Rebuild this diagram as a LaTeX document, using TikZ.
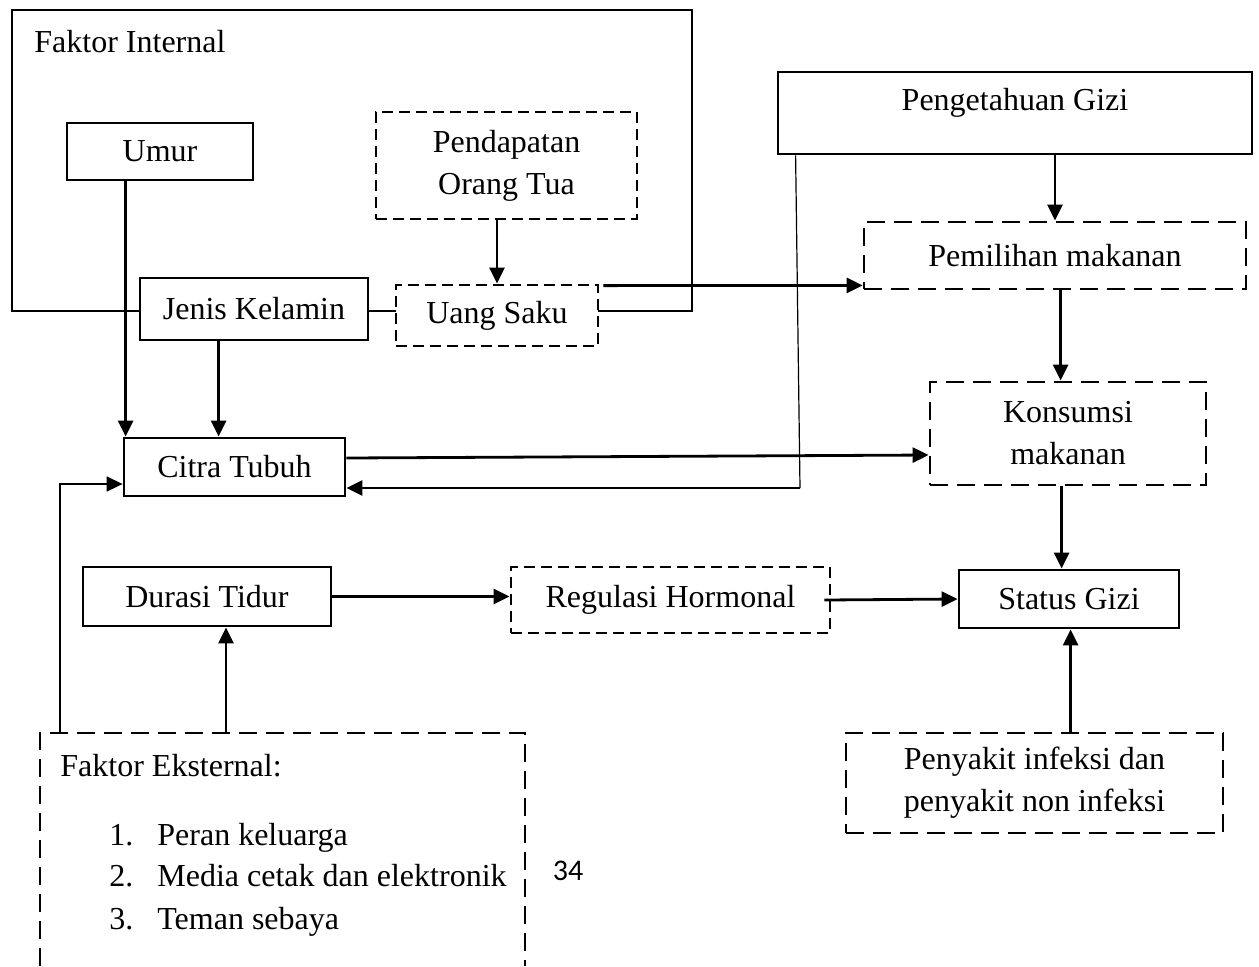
\documentclass[tikz,border=0pt]{standalone}
\usepackage{fontspec}
\setmainfont{Liberation Serif}
\newfontfamily\pagefont{Carlito}
\usetikzlibrary{arrows.meta,calc}
\begin{document}
\begin{tikzpicture}[x=0.5pt,y=-0.5pt, font=\fontsize{16pt}{21pt}\selectfont,
 box/.style={draw, line width=1.4pt, fill=white, inner sep=0pt, align=center},
 dbox/.style={box, dash pattern=on 5.5pt off 3pt},
 ldbox/.style={box, dash pattern=on 9pt off 4.5pt},
 arr/.style={line width=1.4pt, -{Triangle[length=8pt,width=7.5pt]}},
 thinarr/.style={line width=0.8pt, -{Triangle[length=8pt,width=7.5pt]}},
 thinline/.style={line width=0.6pt},
 plain/.style={anchor=base west, inner sep=0pt}]
\useasboundingbox (0,0) rectangle (1259,966);
% Faktor Internal frame
\draw[line width=1.4pt] (12,10) rectangle (692,311);
\node[plain] (fi) at (34,52) {Faktor Internal};
\node[box, minimum width=93pt, minimum height=28.5pt] (umur) at (160,151.5) {Umur};
\node[dbox, minimum width=130.5pt, minimum height=53.5pt] (pend) at (506.5,165.5) {Pendapatan\\Orang Tua};
\node[box, minimum width=114pt, minimum height=31pt] (jk) at (254,309) {Jenis Kelamin};
\node[dbox, minimum width=101pt, minimum height=30.5pt] (uang) at (497,315.5) {\raisebox{-1.2pt}{Uang Saku}};
\node[box, minimum width=237pt, minimum height=41pt] (peng) at (1015,113) {};
\node (pengt) at (1015,103) {Pengetahuan Gizi};
\node[ldbox, minimum width=191pt, minimum height=33.5pt] (pem) at (1055,255.5) {Pemilihan makanan};
\node[ldbox, minimum width=138pt, minimum height=51.5pt] (kons) at (1068,433.5) {Konsumsi\\makanan};
\node[box, minimum width=110.5pt, minimum height=29pt] (citra) at (234.5,467) {Citra Tubuh};
\node[box, minimum width=124pt, minimum height=29.5pt] (dur) at (207,596.5) {Durasi Tidur};
\node[dbox, minimum width=159.5pt, minimum height=33pt] (reg) at (670.5,600) {Regulasi Hormonal};
\node[box, minimum width=110pt, minimum height=29pt] (stat) at (1069,599) {Status Gizi};
\node[ldbox, minimum width=188.5pt, minimum height=50pt] (peny) at (1034.5,783) {Penyakit infeksi dan\\penyakit non infeksi};
% Faktor Eksternal (open at the bottom of the page)
\draw[line width=1.4pt, dash pattern=on 9pt off 4.5pt] (40,966) -- (40,733) -- (525,733) -- (525,966);
\node[plain] (fe) at (60,776) {Faktor Eksternal:};
\node[plain] (n1) at (109,845) {1.};
\node[plain] (t1) at (157,845) {Peran keluarga};
\node[plain] (n2) at (109,886) {2.};
\node[plain] (t2) at (157,886) {Media cetak dan elektronik};
\node[plain] (n3) at (109,929) {3.};
\node[plain] (t3) at (157,929) {Teman sebaya};
\node[font=\pagefont\fontsize{15pt}{17pt}\selectfont] (pg) at (568,871) {34};
\coordinate (ekL) at (60,733);
\coordinate (ekD) at (226,733);
\coordinate (kn) at (800,488);
% connectors
\draw[arr] (pend.south -| uang.north) -- (uang.north);
\draw[arr] ($(uang.north east)+(4,2)$) -- ($(pem.south west)+(0,-5)$);
\draw[arr] ($(umur.south west)+(60,0)$) -- ($(citra.north west)+(3,0)$);
\draw[arr] ($(jk.south west)+(80,0)$) -- ($(citra.north west)+(96,0)$);
\draw[arr] ($(citra.east)+(0,-9)$) -- ($(kons.west)+(0,21.5)$);
\draw[thinline] ($(peng.south west)+(19,0)$) -- (kn);
\draw[arr] (kn) -- ($(citra.east)+(0,21)$);
\draw[arr] (peng.south -| pem.north) -- (pem.north);
\draw[arr] ($(pem.south west)+(198,0)$) -- ($(kons.north west)+(132,0)$);
\draw[arr] ($(kons.south west)+(133,0)$) -- ($(stat.north west)+(104,0)$);
\draw[arr] ($(peny.north west)+(226,0)$) -- ($(stat.south west)+(113,0)$);
\draw[arr] (dur.east) -- (dur.east -| reg.west);
\draw[arr] ($(reg.east)+(-7,0)$) -- (stat.west);
\draw[thinarr] (ekL) |- ($(citra.west)+(0,17)$);
\draw[arr] (ekD) -- (ekD |- dur.south);
\end{tikzpicture}
\end{document}
